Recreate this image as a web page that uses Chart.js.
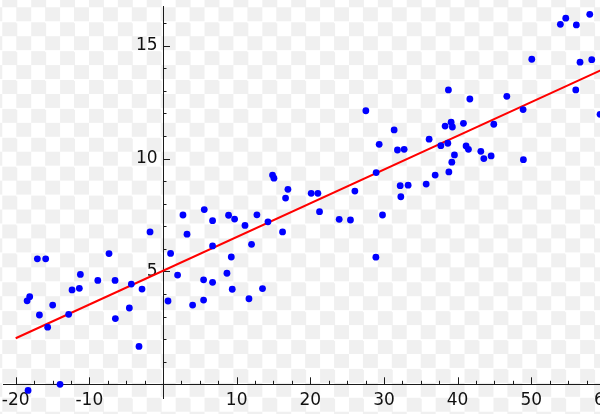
<!DOCTYPE html>
<html><head><meta charset="utf-8">
<script src="https://cdn.jsdelivr.net/npm/chart.js@4.4.1/dist/chart.umd.min.js"></script>
<style>
html,body{margin:0;padding:0;width:600px;height:414px;overflow:hidden;}
body{background-color:#fff;background-image:conic-gradient(#f0f0f0 25%,#fff 0 50%,#f0f0f0 0 75%,#fff 0);background-size:28.9px 28.9px;background-position:2.3px 7.3px;}
#wrap{position:absolute;left:0;top:0;width:640px;height:414px;}
</style></head><body><div id="wrap"><canvas id="c" width="640" height="414"></canvas></div>
<script>
// scatter data
const xValues = [27.54,31.38,36.13,38.75,39.12,38.30,39.29,40.79,41.66,44.91,
  46.68,48.89,50.07,53.95,54.68,56.12,57.94,56.62,58.21,56.04,
  59.34,32.74,37.72,38.67,41.15,41.47,39.57,39.21,38.81,36.95,
  35.73,43.15,43.56,44.55,48.93,32.20,33.28,32.29,29.35,31.83,
  28.94,26.05,20.12,21.03,21.25,23.92,25.45,29.80,28.90,14.87,
  15.06,16.96,16.64,16.23,12.75,14.25,11.13,9.72,8.90,6.73,
  5.60,12.02,6.73,9.27,8.68,5.51,6.73,2.71,3.26,-1.76,
  1.03,-7.33,-17.06,-15.93,-11.22,-8.85,-6.51,1.98,-4.30,-2.85,
  -12.35,-11.36,-18.10,-18.45,-14.98,-16.78,-12.81,-15.66,-4.57,-6.47,
  -3.26,0.68,4.02,-18.32,-13.98,9.40,5.51,11.67,13.51];
const yValues = [12.12,11.27,10.86,13.04,11.61,11.44,11.40,11.56,12.64,11.52,
  12.76,12.17,14.40,15.95,16.22,15.92,16.39,14.27,14.38,13.04,
  11.96,10.41,10.57,10.68,10.56,10.41,10.16,9.84,9.41,9.27,
  8.87,10.32,10.00,10.12,9.95,8.80,8.82,8.31,10.63,10.38,
  9.38,8.56,8.46,8.46,7.65,7.31,7.28,7.50,5.63,9.27,
  9.13,8.64,8.25,6.75,7.51,7.20,7.04,7.32,7.49,7.25,
  7.74,6.20,6.13,5.64,4.92,4.63,4.52,7.50,6.65,6.75,
  5.80,5.79,5.56,5.56,4.87,4.60,4.60,4.84,4.44,4.22,
  4.18,4.25,3.88,3.70,3.51,3.07,3.10,2.53,3.38,2.91,
  1.68,3.69,3.51,-0.27,0.00,4.21,3.73,3.79,4.24];
// fitted line end points
const fitX = [-20, 60];
const fitY = [2.04, 14.0];
// ticks
const xTickValues = [-20,-10,10,20,30,40,50,60];
const xTickLabels = ['-20','-10','10','20','30','40','50','60'];
const yTickValues = [5,10,15];
const yTickLabels = ['5','10','15'];
const xMinorStep = 2.5, yMinorStep = 1;

const axisColor = '#1a1a1a';
const textColor = '#111';
const font = {family:'DejaVu Sans', size:17};

const zeroFit = s => {
  if (s.isHorizontal()) s.height = 0; else s.width = 0;
  s.paddingTop = s.paddingBottom = s.paddingLeft = s.paddingRight = 0;
};

const tickPlugin = {
  id:'axisTicks',
  beforeDatasetsDraw(chart){
    const {ctx, scales:{x, y}} = chart;
    const x0 = x.getPixelForValue(0), y0 = y.getPixelForValue(0);
    ctx.save();
    ctx.strokeStyle = axisColor; ctx.lineWidth = 1;
    ctx.beginPath();
    const xs = xTickValues[0], xe = xTickValues[xTickValues.length-1];
    for (let v = xs; v <= xe + 1e-9; v += xMinorStep) {
      if (Math.abs(v) < 1e-9) continue;
      const major = xTickValues.includes(v);
      const px = Math.round(x.getPixelForValue(v)) + 0.5;
      const len = major ? 7 : 3.5;
      ctx.moveTo(px, y0); ctx.lineTo(px, y0 - len);
    }
    for (let v = yMinorStep; v <= y.max; v += yMinorStep) {
      const major = yTickValues.includes(v);
      const py = Math.round(y.getPixelForValue(v)) + 0.5;
      const len = major ? 7 : 3.5;
      ctx.moveTo(x0, py); ctx.lineTo(x0 + len, py);
    }
    ctx.stroke();
    ctx.restore();
  }
};

const pts = xValues.map((x, i) => ({x, y: yValues[i]}));
const fit = fitX.map((x, i) => ({x, y: fitY[i]}));

new Chart(document.getElementById('c'), {
  type: 'scatter',
  data: {datasets: [
    {label:'data', data: pts, backgroundColor:'#0000ff', borderWidth:0, pointRadius:3.4, pointHoverRadius:3.4, order:0},
    {type:'line', label:'fit', data: fit, borderColor:'#ff0000', borderWidth:2, pointRadius:0, fill:false, order:1}
  ]},
  options: {
    responsive:false, animation:false, devicePixelRatio:1, events:[],
    layout:{padding:{left:3, top:6, right:28, bottom:16}},
    plugins:{legend:{display:false}, tooltip:{enabled:false}},
    scales:{
      x:{type:'linear', position:{y:0}, min:-21.67, max:60.96,
        afterBuildTicks: s => { s.ticks = xTickValues.map(v => ({value:v})); },
        afterFit: zeroFit,
        grid:{display:false, drawTicks:false},
        border:{display:true, color:axisColor, width:1},
        ticks:{callback:(v, i) => xTickLabels[i], padding:6, color:textColor, font, autoSkip:false, maxRotation:0}},
      y:{type:'linear', position:{x:0}, min:-0.607, max:16.76,
        afterBuildTicks: s => { s.ticks = yTickValues.map(v => ({value:v})); },
        afterFit: zeroFit,
        grid:{display:false, drawTicks:false},
        border:{display:true, color:axisColor, width:1},
        // trailing space keeps the right-aligned label clear of the axis line
        ticks:{callback:(v, i) => yTickLabels[i] + ' ', padding:5, color:textColor, font, autoSkip:false}}
    }
  },
  plugins:[tickPlugin]
});
</script></body></html>
